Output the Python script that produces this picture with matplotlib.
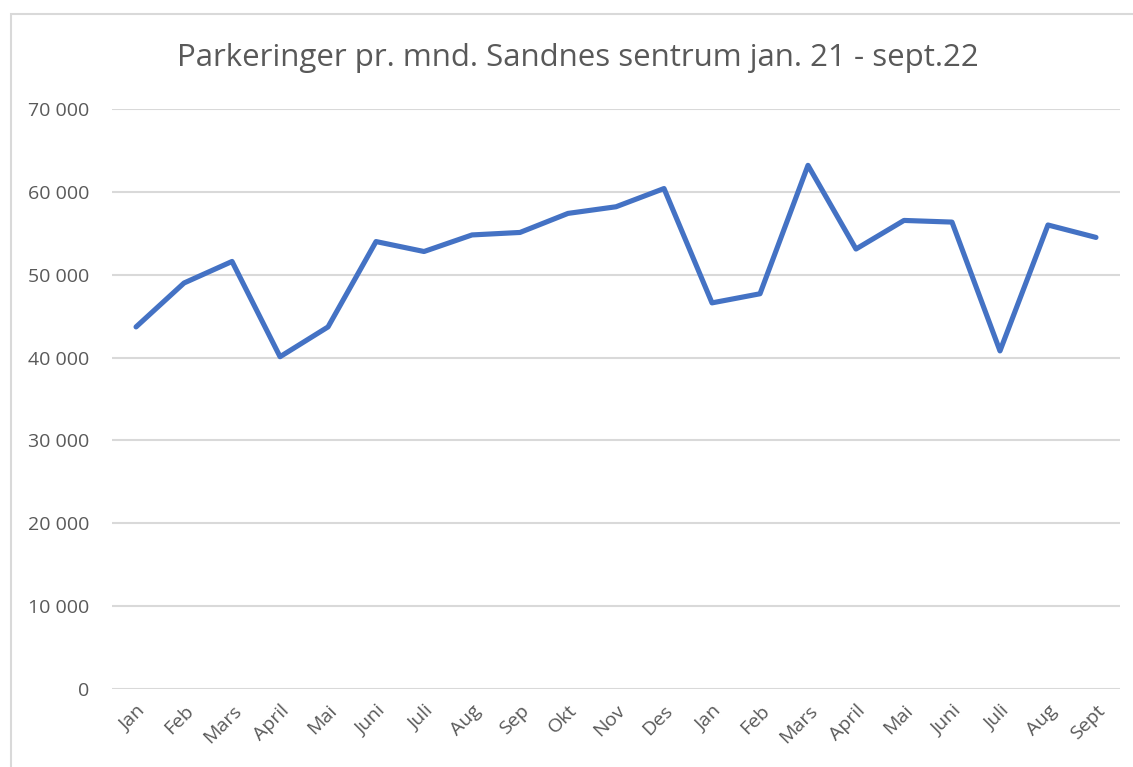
import matplotlib
matplotlib.use("Agg")
import matplotlib.pyplot as plt
from matplotlib.patches import Rectangle
from matplotlib.ticker import FuncFormatter, MultipleLocator

# Monthly parking counts, Sandnes sentrum, Jan 2021 - Sept 2022
months = ["Jan", "Feb", "Mars", "April", "Mai", "Juni", "Juli", "Aug", "Sep", "Okt", "Nov", "Des",
          "Jan", "Feb", "Mars", "April", "Mai", "Juni", "Juli", "Aug", "Sept"]
parkings = [43700, 49000, 51600, 40100, 43700, 54000, 52800, 54800, 55100, 57400, 58200, 60400,
            46600, 47700, 63200, 53100, 56550, 56350, 40800, 56000, 54500]

title = "Parkeringer pr. mnd. Sandnes sentrum jan. 21 - sept.22"

plt.rcParams["font.family"] = ["Open Sans", "DejaVu Sans"]
text_col = "#595959"
grid_col = "#d9d9d9"

fig = plt.figure(figsize=(11.33, 7.67), dpi=100)
ax = fig.add_axes([0.0989, 0.1017, 0.8896, 0.7562])

x = list(range(len(months)))
ax.plot(x, parkings, color="#4472C4", lw=3.7, solid_joinstyle="round", solid_capstyle="round", zorder=3)

ax.set_xlim(-0.5, len(months) - 0.5)
ax.set_ylim(0, 70000)
ax.yaxis.set_major_locator(MultipleLocator(10000))
ax.yaxis.set_major_formatter(FuncFormatter(lambda v, p: f"{int(v):,}".replace(",", " ")))
ax.grid(axis="y", color=grid_col, lw=1.5, zorder=0)
ax.set_axisbelow(True)

ax.set_xticks(x)
ax.set_xticklabels(months, rotation=45, ha="right", rotation_mode="anchor")
ax.tick_params(axis="both", length=0, labelsize=14, colors=text_col)
ax.tick_params(axis="y", pad=16.5)
ax.tick_params(axis="x", pad=9)
for s in ax.spines.values():
    s.set_visible(False)

fig.text(578 / 1133, 1 - 66 / 767, title, ha="center", va="baseline", fontsize=22.5, color=text_col)

# chart frame (only left and top edges visible in the crop)
fig.patches.append(Rectangle((11 / 1133, -0.2), 1.5, 1.2 - 14 / 767, transform=fig.transFigure,
                             fill=False, ec=grid_col, lw=1.5))

fig.savefig("out.png", dpi=100)
